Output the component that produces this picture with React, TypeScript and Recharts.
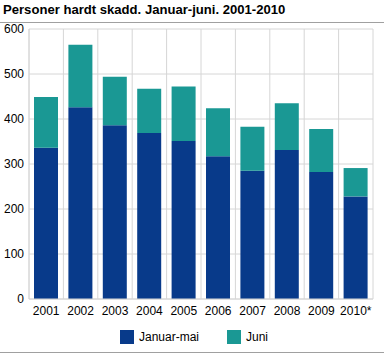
import React from "react";
import { BarChart, Bar, XAxis, YAxis, CartesianGrid } from "recharts";

const years = ["2001", "2002", "2003", "2004", "2005", "2006", "2007", "2008", "2009", "2010*"];
const januarMai = [336, 426, 386, 369, 351, 317, 285, 331, 282, 228];
const juni = [113, 139, 108, 98, 121, 107, 98, 104, 96, 63];
const yTicks = [0, 100, 200, 300, 400, 500, 600];

const data = years.map((year, i) => ({
  year,
  januarMai: januarMai[i],
  juni: juni[i],
}));

const BLUE = "#083a8a";
const TEAL = "#1a9894";
const GRID = "#d6d6d6";
const FONT = "'Liberation Sans', Arial, sans-serif";

export default function App() {
  // grid lines between categories, not through the middle of them
  const verticalLines = ({ offset }: any) => {
    const step = offset.width / years.length;
    return years.map((_, i) => offset.left + i * step).concat(offset.left + offset.width);
  };

  return (
    <div style={{ position: "absolute", left: 0, top: 0, width: 384, height: 355, background: "#fff", fontFamily: FONT }}>
      <div style={{ position: "absolute", left: 3, top: 2, fontSize: 13.1, fontWeight: "bold", color: "#000" }}>
        Personer hardt skadd. Januar-juni. 2001-2010
      </div>
      <div style={{ position: "absolute", left: 0, top: 22, width: 384, height: 1, background: "#a0a0a0" }} />
      <BarChart
        width={384}
        height={355}
        data={data}
        margin={{ top: 29, right: 11, left: 0, bottom: 36 }}
        barCategoryGap={5}
      >
        <CartesianGrid stroke={GRID} verticalCoordinatesGenerator={verticalLines} />
        <XAxis
          dataKey="year"
          height={20}
          tickLine={false}
          axisLine={{ stroke: GRID }}
          tick={{ fill: "#000", fontSize: 12, fontFamily: FONT }}
          interval={0}
          tickMargin={1}
        />
        <YAxis
          width={29}
          domain={[0, 600]}
          ticks={yTicks}
          tickLine={false}
          tickSize={0}
          axisLine={{ stroke: GRID }}
          tick={{ fill: "#000", fontSize: 12, fontFamily: FONT }}
          tickMargin={5}
        />
        <Bar dataKey="januarMai" stackId="a" fill={BLUE} isAnimationActive={false} />
        <Bar dataKey="juni" stackId="a" fill={TEAL} isAnimationActive={false} />
      </BarChart>
      <div style={{ position: "absolute", left: 0, top: 330, width: 384, fontSize: 12, color: "#000" }}>
        <div style={{ position: "absolute", left: 120, top: 0, width: 14, height: 14, background: BLUE }} />
        <div style={{ position: "absolute", left: 139, top: 0 }}>Januar-mai</div>
        <div style={{ position: "absolute", left: 227, top: 0, width: 14, height: 14, background: TEAL }} />
        <div style={{ position: "absolute", left: 246, top: 0 }}>Juni</div>
      </div>
      <div style={{ position: "absolute", left: 0, top: 352, width: 384, height: 1, background: "#a0a0a0" }} />
    </div>
  );
}
